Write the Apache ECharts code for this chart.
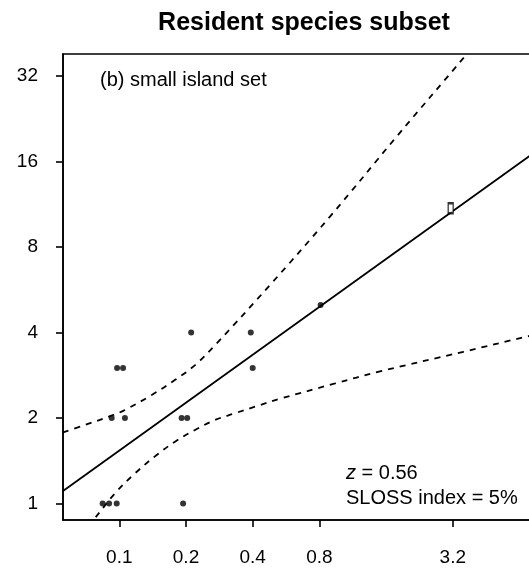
<!DOCTYPE html>
<html>
<head>
<meta charset="utf-8">
<script src="https://cdn.jsdelivr.net/npm/echarts@6/dist/echarts.min.js"></script>
<style>
  html, body { margin: 0; padding: 0; background: #ffffff; }
  #chart { width: 529px; height: 571px; }
</style>
</head>
<body>
<div id="chart"></div>
<script>
// Axis ticks (log scales, base 2)
const xTickValues = [0.1, 0.2, 0.4, 0.8, 3.2];
const yTickValues = [1, 2, 4, 8, 16, 32];
const xRange = [0.0557, 8.34];
const yRange = [0.875, 38.2];

// Island area vs. resident species count
const islandArea = [0.0841, 0.0899, 0.0973, 0.194,
                    0.0924, 0.106, 0.191, 0.2025,
                    0.0977, 0.104, 0.40,
                    0.211, 0.392,
                    0.81];
const speciesCount = [1, 1, 1, 1,
                      2, 2, 2, 2,
                      3, 3, 3,
                      4, 4,
                      5];

// Single point drawn with an open box marker
const boxArea = [3.13];
const boxCount = [10.95];

// Power-law fit S = c * A^z
const zValue = 0.56;
const fitConst = 5.58;
const slossIndex = 5;

// Confidence band around the fit
const upperArea = [0.0557, 0.070, 0.094, 0.106, 0.140, 0.178, 0.2196, 0.275, 0.479, 0.893, 1.786, 3.67, 4.5];
const upperCount = [1.78, 1.89, 2.05, 2.134, 2.41, 2.72, 3.07, 3.66, 5.88, 10.23, 19.57, 37.9, 45.9];
const lowerArea = [0.0715, 0.0763, 0.0956, 0.1177, 0.1475, 0.1784, 0.2196, 0.2704, 0.3328, 0.4096, 0.5408, 0.924, 1.50, 3.57, 6.9, 8.34];
const lowerCount = [0.835, 0.875, 1.086, 1.277, 1.482, 1.65, 1.815, 1.968, 2.078, 2.192, 2.346, 2.635, 2.916, 3.42, 3.87, 4.0];

const FONT = "'Liberation Sans', Arial, Helvetica, sans-serif";

const zip = (xs, ys) => xs.map((x, i) => [x, ys[i]]);
const fitLine = xRange.map(a => [a, fitConst * Math.pow(a, zValue)]);

const chart = echarts.init(document.getElementById('chart'), null, { renderer: 'canvas' });

chart.setOption({
  animation: false,
  backgroundColor: '#ffffff',
  grid: {
    left: 63, top: 54, bottom: 51, right: -16,
    show: true, borderColor: '#000', borderWidth: 1.6,
    containLabel: false, outerBoundsMode: 'none'
  },
  xAxis: {
    type: 'log', logBase: 2, min: xRange[0], max: xRange[1],
    axisLine: { show: true, onZero: false, lineStyle: { color: '#000', width: 1.6 } },
    axisTick: { show: true, length: 7, customValues: xTickValues, lineStyle: { color: '#000', width: 1.6 } },
    axisLabel: {
      customValues: xTickValues, margin: 28, color: '#000', fontSize: 19, fontFamily: FONT,
      formatter: v => String(+(+v).toPrecision(3))
    },
    splitLine: { show: false }, minorTick: { show: false }
  },
  yAxis: {
    type: 'log', logBase: 2, min: yRange[0], max: yRange[1],
    axisLine: { show: true, onZero: false, lineStyle: { color: '#000', width: 1.6 } },
    axisTick: { show: true, length: 7, customValues: yTickValues, lineStyle: { color: '#000', width: 1.6 } },
    axisLabel: {
      customValues: yTickValues, margin: 25, color: '#000', fontSize: 19, fontFamily: FONT,
      formatter: v => String(Math.round(v))
    },
    splitLine: { show: false }, minorTick: { show: false }
  },
  series: [
    {
      type: 'line', data: zip(upperArea, upperCount), smooth: 0.4, symbol: 'none', clip: true,
      lineStyle: { color: '#000', width: 1.8, type: [6, 6] }, z: 3
    },
    {
      type: 'line', data: zip(lowerArea, lowerCount), smooth: 0.4, symbol: 'none', clip: true,
      lineStyle: { color: '#000', width: 1.8, type: [6, 6] }, z: 3
    },
    {
      type: 'line', data: fitLine, symbol: 'none', clip: true,
      lineStyle: { color: '#000', width: 1.8 }, z: 3
    },
    {
      type: 'scatter', data: zip(islandArea, speciesCount), symbol: 'circle', symbolSize: 6,
      itemStyle: { color: '#000' }, z: 4
    },
    {
      type: 'scatter', data: zip(boxArea, boxCount), symbol: 'rect', symbolSize: [5, 10],
      itemStyle: { color: '#fff', borderColor: '#000', borderWidth: 1.8 }, z: 4
    }
  ],
  graphic: [
    {
      type: 'text', x: 304, y: 23,
      style: { text: 'Resident species subset', fill: '#000', font: "bold 25px " + FONT, align: 'center', verticalAlign: 'middle' }
    },
    {
      type: 'text', x: 100, y: 80,
      style: { text: '(b) small island set', fill: '#000', font: "20px " + FONT, verticalAlign: 'middle' }
    },
    {
      type: 'text', x: 346, y: 473,
      style: {
        text: '{i|z} = ' + zValue.toFixed(2),
        fill: '#000', font: "20px " + FONT, verticalAlign: 'middle',
        rich: { i: { fontStyle: 'italic', fontSize: 20, fontFamily: FONT, fill: '#000' } }
      }
    },
    {
      type: 'text', x: 346, y: 498,
      style: { text: 'SLOSS index = ' + slossIndex + '%', fill: '#000', font: "20px " + FONT, verticalAlign: 'middle' }
    }
  ]
});
</script>
</body>
</html>
